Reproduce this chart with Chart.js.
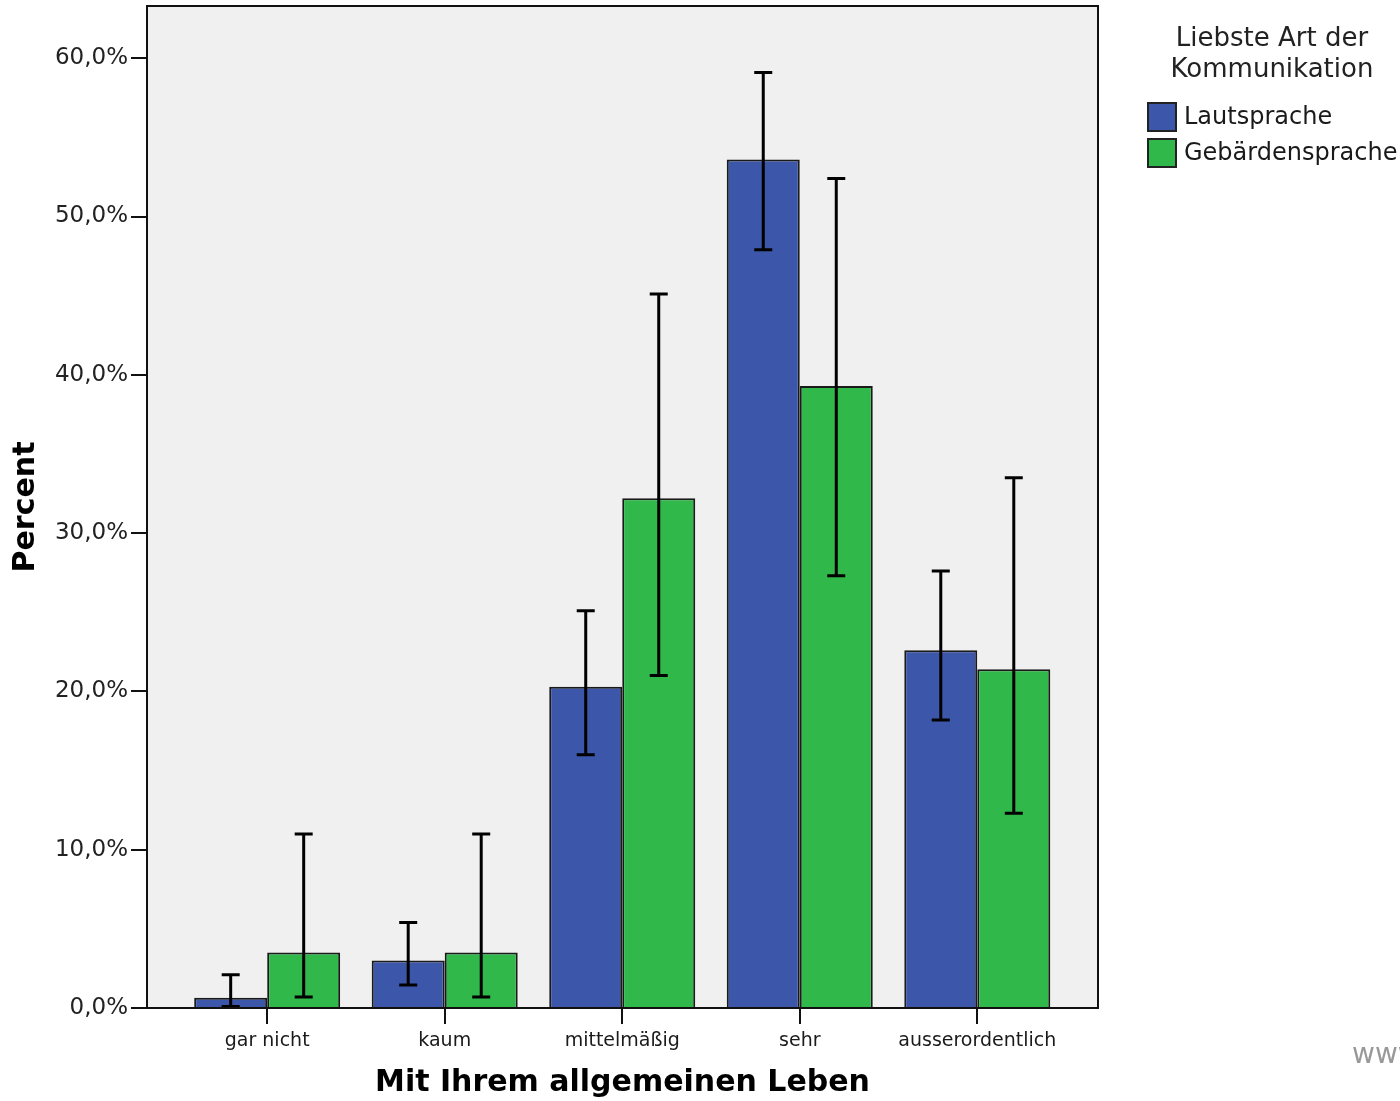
<!DOCTYPE html>
<html>
<head>
<meta charset="utf-8">
<script src="https://cdn.jsdelivr.net/npm/chart.js@4"></script>
<style>
  body { margin: 0; background: #fff; }
  #wrap { width: 1400px; height: 1101px; }
</style>
</head>
<body>
<div id="wrap"><canvas id="chart" width="1400" height="1101"></canvas></div>
<script>
// values (percent)
const categories = ['gar nicht', 'kaum', 'mittelmäßig', 'sehr', 'ausserordentlich'];
const seriesNames = ['Lautsprache', 'Gebärdensprache'];
const lautValues = [0.65, 3.0, 20.3, 53.6, 22.6];
const lautLow = [0.1, 1.45, 16.0, 47.9, 18.2];
const lautHigh = [2.1, 5.4, 25.1, 59.1, 27.6];
const gebValues = [3.5, 3.5, 32.2, 39.3, 21.4];
const gebLow = [0.7, 0.7, 21.0, 27.3, 12.3];
const gebHigh = [11.0, 11.0, 45.1, 52.4, 33.5];
const yTicks = [0, 10, 20, 30, 40, 50, 60];

const blue = '#3c56a9';
const green = '#30b84b';

function toPoints(vals) {
    return vals.map((v, i) => ({ x: i, y: v }));
}

// plot background and frame
const framePlugin = {
    id: 'frame',
    beforeDraw(chart) {
        const { ctx, chartArea: a } = chart;
        ctx.save();
        ctx.fillStyle = '#f0f0f0';
        ctx.fillRect(a.left, a.top, a.right - a.left, a.bottom - a.top);
        ctx.restore();
    },
    afterDraw(chart) {
        const { ctx, chartArea: a } = chart;
        ctx.save();
        ctx.strokeStyle = '#111';
        ctx.lineWidth = 2;
        ctx.strokeRect(a.left, a.top, a.right - a.left, a.bottom - a.top);
        ctx.restore();
    }
};

// error bars
const errorBarPlugin = {
    id: 'errorBars',
    afterDatasetsDraw(chart) {
        const { ctx } = chart;
        const yScale = chart.scales.y;
        chart.data.datasets.forEach((ds, di) => {
            const meta = chart.getDatasetMeta(di);
            meta.data.forEach((bar, i) => {
                const yLo = yScale.getPixelForValue(ds.errLow[i]);
                const yHi = yScale.getPixelForValue(ds.errHigh[i]);
                const x = bar.x;
                ctx.save();
                ctx.strokeStyle = '#000';
                ctx.lineWidth = 3;
                ctx.beginPath();
                ctx.moveTo(x, yLo);
                ctx.lineTo(x, yHi);
                ctx.moveTo(x - 9, yLo);
                ctx.lineTo(x + 9, yLo);
                ctx.moveTo(x - 9, yHi);
                ctx.lineTo(x + 9, yHi);
                ctx.stroke();
                ctx.restore();
            });
        });
    }
};

// legend with two-line title on the right
const legendPlugin = {
    id: 'sideLegend',
    afterDraw(chart) {
        const { ctx } = chart;
        ctx.save();
        ctx.fillStyle = '#222';
        ctx.font = '26px "DejaVu Sans"';
        ctx.textAlign = 'center';
        ctx.textBaseline = 'middle';
        ctx.fillText('Liebste Art der', 1272, 39);
        ctx.fillText('Kommunikation', 1272, 70);
        ctx.textAlign = 'left';
        ctx.font = '24px "DejaVu Sans"';
        chart.data.datasets.forEach((ds, i) => {
            const y = 103 + i * 36;
            ctx.fillStyle = ds.backgroundColor;
            ctx.fillRect(1148, y, 28, 28);
            ctx.strokeStyle = '#222';
            ctx.lineWidth = 2;
            ctx.strokeRect(1148, y, 28, 28);
            ctx.fillStyle = '#1a1a1a';
            ctx.fillText(ds.label, 1184, y + 15);
        });
        // cut-off watermark at bottom right
        ctx.fillStyle = '#999';
        ctx.font = '28px "DejaVu Sans"';
        ctx.fillText('www.', 1352, 1056);
        ctx.restore();
    }
};

new Chart(document.getElementById('chart'), {
    type: 'bar',
    data: {
        datasets: [{
            label: seriesNames[0],
            data: toPoints(lautValues),
            errLow: lautLow,
            errHigh: lautHigh,
            backgroundColor: blue,
            borderColor: '#1a1a1a',
            borderWidth: 2,
            categoryPercentage: 0.8225,
            barPercentage: 1.0
        }, {
            label: seriesNames[1],
            data: toPoints(gebValues),
            errLow: gebLow,
            errHigh: gebHigh,
            backgroundColor: green,
            borderColor: '#1a1a1a',
            borderWidth: 2,
            categoryPercentage: 0.8225,
            barPercentage: 1.0
        }]
    },
    options: {
        responsive: false,
        animation: false,
        layout: {
            padding: { left: 0, top: 6, right: 302, bottom: 0 }
        },
        plugins: {
            legend: { display: false },
            tooltip: { enabled: false }
        },
        scales: {
            x: {
                type: 'linear',
                offset: false,
                min: -0.677,
                max: 4.68,
                afterFit(scale) {
                    scale.height = 93;
                    scale.paddingLeft = 0;
                    scale.paddingRight = 0;
                },
                afterBuildTicks(scale) {
                    scale.ticks = categories.map((c, i) => ({ value: i }));
                },
                ticks: {
                    callback: (v) => categories[v],
                    color: '#1a1a1a',
                    font: { family: 'DejaVu Sans', size: 19 },
                    padding: 6,
                    maxRotation: 0,
                    autoSkip: false
                },
                grid: {
                    offset: false,
                    drawOnChartArea: false,
                    drawTicks: true,
                    tickLength: 16,
                    color: '#111',
                    lineWidth: 2
                },
                border: { display: false },
                title: {
                    display: true,
                    text: 'Mit Ihrem allgemeinen Leben',
                    color: '#000',
                    font: { family: 'DejaVu Sans', size: 30, weight: 'bold' },
                    padding: { top: 0, bottom: 0 }
                }
            },
            y: {
                min: 0,
                max: 63.3,
                afterFit(scale) {
                    scale.width = 147;
                    scale.paddingTop = 0;
                    scale.paddingBottom = 0;
                },
                afterBuildTicks(scale) {
                    scale.ticks = yTicks.map((v) => ({ value: v }));
                },
                ticks: {
                    callback: (v) => v.toFixed(1).replace('.', ',') + '%',
                    color: '#222',
                    font: { family: 'DejaVu Sans', size: 23 },
                    padding: 3
                },
                grid: {
                    drawOnChartArea: false,
                    drawTicks: true,
                    tickLength: 16,
                    color: '#111',
                    lineWidth: 2
                },
                border: { display: false },
                title: {
                    display: true,
                    text: 'Percent',
                    color: '#000',
                    font: { family: 'DejaVu Sans', size: 30, weight: 'bold' },
                    padding: { top: 8, bottom: 0 }
                }
            }
        }
    },
    plugins: [framePlugin, errorBarPlugin, legendPlugin]
});
</script>
</body>
</html>
